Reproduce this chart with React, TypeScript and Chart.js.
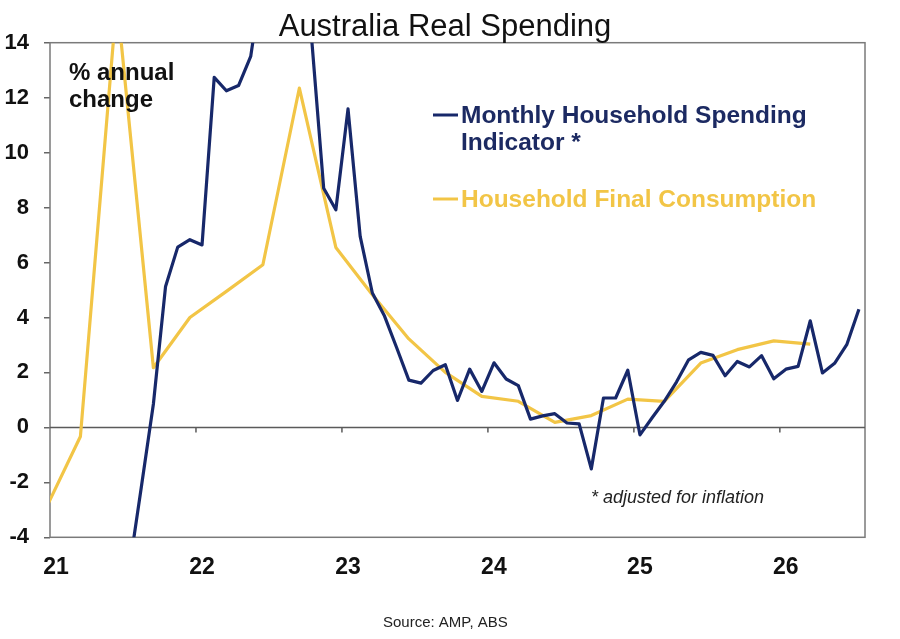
import React, { useEffect, useRef } from "react";
import { Chart, registerables } from "chart.js";

Chart.register(...registerables);

// ---------- data ----------
const TITLE = "Australia Real Spending";
const UNIT_NOTE = ["% annual", "change"];
const FOOTNOTE = "* adjusted for inflation";
const SOURCE = "Source: AMP, ABS";

// x axis: months since Jan 2021
const YEAR_LABELS = ["21", "22", "23", "24", "25", "26"];

// Monthly Household Spending Indicator, % y/y, Jan-2021 .. Jul-2026
const monthlyIndicator: (number | null)[] = [
  null, null, null, null, null, null, -5.2, -2.2, 0.85, 5.13, 6.56, 6.83,
  6.64, 12.74, 12.25, 12.44, 13.5, 16.5, 19.0, 20.5, 17.5, 14.2, 8.7, 7.92,
  11.59, 6.95, 4.89, 4.05, 2.9, 1.72, 1.61, 2.07, 2.28, 0.98, 2.12, 1.31,
  2.35, 1.76, 1.52, 0.3, 0.42, 0.5, 0.16, 0.13, -1.51, 1.07, 1.07, 2.08,
  -0.27, 0.35, 0.95, 1.65, 2.46, 2.73, 2.62, 1.88, 2.4, 2.2, 2.61, 1.77,
  2.12, 2.22, 3.88, 1.98, 2.33, 3.01, 4.3,
];

// Household Final Consumption, % y/y, quarterly (quarter-end month index from Jan-2021)
const quarterMonths = [
  -1, 2, 5, 8, 11, 14, 17, 20, 23, 26, 29, 32, 35, 38, 41, 44, 47, 50, 53, 56, 59, 62,
];
const quarterlyConsumption = [
  -3.1, -0.33, 15.6, 2.17, 4.0, 4.95, 5.92, 12.35, 6.55, 4.83, 3.22, 2.0,
  1.13, 0.95, 0.18, 0.43, 1.03, 0.95, 2.34, 2.83, 3.15, 3.03,
];

const SERIES_LABELS = [
  "Monthly Household Spending Indicator *",
  "Household Final Consumption",
];
const LEGEND_LINES = [
  ["Monthly Household Spending", "Indicator *"],
  ["Household Final Consumption"],
];

const NAVY = "#17286a";
const NAVY_TEXT = "#1c2a62";
const YELLOW = "#f2c546";
const FONT = "'Liberation Sans', Arial, Helvetica, sans-serif";

const annotations = {
  id: "annotations",
  afterDraw(chart: any) {
    const { ctx } = chart;
    ctx.save();
    // title
    ctx.fillStyle = "#111";
    ctx.font = `normal 31px ${FONT}`;
    ctx.textAlign = "center";
    ctx.textBaseline = "alphabetic";
    ctx.fillText(TITLE, 445, 36);

    // unit note
    ctx.textAlign = "left";
    ctx.font = `bold 24px ${FONT}`;
    ctx.fillStyle = "#111";
    UNIT_NOTE.forEach((t, i) => ctx.fillText(t, 69, 80 + i * 27));

    // legend
    const colors = chart.data.datasets.map((d: any) => d.borderColor);
    const textColors = [NAVY_TEXT, YELLOW];
    const rows = [123, 207];
    LEGEND_LINES.forEach((lines, i) => {
      const base = rows[i];
      ctx.strokeStyle = colors[i];
      ctx.lineWidth = 3;
      ctx.beginPath();
      ctx.moveTo(433, base - 8);
      ctx.lineTo(458, base - 8);
      ctx.stroke();
      ctx.fillStyle = textColors[i];
      ctx.font = `bold 24.5px ${FONT}`;
      lines.forEach((t, j) => ctx.fillText(t, 461, base + j * 27));
    });

    // footnote
    ctx.fillStyle = "#222";
    ctx.font = `italic 18px ${FONT}`;
    ctx.fillText(FOOTNOTE, 591, 503);

    // source
    ctx.font = `normal 15px ${FONT}`;
    ctx.fillStyle = "#222";
    ctx.fillText(SOURCE, 383, 627);
    ctx.restore();
  },
};

const frame = {
  id: "frame",
  beforeDatasetsDraw(chart: any) {
    const { ctx, chartArea, scales } = chart;
    const { left, top, right, bottom } = chartArea;
    ctx.save();
    ctx.strokeStyle = "#7a7a7a";
    ctx.lineWidth = 1.5;
    ctx.strokeRect(left, top, right - left, bottom - top);
    const y0 = scales.y.getPixelForValue(0);
    ctx.strokeStyle = "#5a5a5a";
    ctx.beginPath();
    ctx.moveTo(left, y0);
    ctx.lineTo(right, y0);
    scales.x.ticks.forEach((t: any) => {
      const px = scales.x.getPixelForValue(t.value);
      if (px > left + 2) {
        ctx.moveTo(px, y0);
        ctx.lineTo(px, y0 + 5);
      }
    });
    ctx.stroke();
    ctx.restore();
  },
};

export default function App() {
  const ref = useRef<HTMLCanvasElement>(null);
  useEffect(() => {
    if (!ref.current) return;
    const monthlyPoints = monthlyIndicator.map((v, i) => ({ x: i + 0.5, y: v }));
    const quarterlyPoints = quarterlyConsumption.map((v, i) => ({ x: quarterMonths[i] + 0.5, y: v }));
    const chart = new Chart(ref.current, {
      type: "line",
      data: {
        datasets: [
          {
            label: SERIES_LABELS[0],
            data: monthlyPoints as any,
            borderColor: NAVY,
            backgroundColor: NAVY,
            borderWidth: 3.2,
            pointRadius: 0,
            tension: 0,
            borderJoinStyle: "round",
          },
          {
            label: SERIES_LABELS[1],
            data: quarterlyPoints as any,
            borderColor: YELLOW,
            backgroundColor: YELLOW,
            borderWidth: 3.2,
            pointRadius: 0,
            tension: 0,
            borderJoinStyle: "round",
          },
        ],
      },
      options: {
        responsive: false,
        animation: false,
        devicePixelRatio: 1,
        layout: { padding: { left: 0, right: 35, top: 42.7, bottom: 0 } },
        plugins: {
          legend: { display: false },
          tooltip: { enabled: false },
          title: { display: false },
        },
        scales: {
          x: {
            type: "linear",
            min: 0,
            max: 67,
            afterBuildTicks: (s: any) => {
              s.ticks = YEAR_LABELS.map((_, i) => ({ value: i * 12 }));
            },
            afterFit: (s: any) => {
              s.height = 639 - 537.3;
            },
            ticks: {
              autoSkip: false,
              maxRotation: 0,
              labelOffset: 6,
              padding: 17,
              color: "#111",
              font: { family: FONT, size: 23, weight: "bold" },
              callback: (v: any) => YEAR_LABELS[Math.round(Number(v) / 12)] ?? "",
            },
            grid: { display: false, drawTicks: false },
            border: { display: false },
          },
          y: {
            min: -4,
            max: 14,
            afterFit: (s: any) => {
              s.width = 50;
            },
            ticks: {
              stepSize: 2,
              padding: 15,
              color: "#111",
              font: { family: FONT, size: 22, weight: "bold" },
            },
            grid: {
              drawOnChartArea: false,
              drawTicks: true,
              tickLength: 6,
              color: "#666",
              lineWidth: 1.5,
            },
            border: { display: false },
          },
        },
      } as any,
      plugins: [frame, annotations],
    });
    return () => chart.destroy();
  }, []);
  return (
    <div style={{ position: "fixed", left: 0, top: 0, width: 900, height: 639, background: "#fff" }}>
      <canvas ref={ref} width={900} height={639} style={{ display: "block", width: 900, height: 639 }} />
    </div>
  );
}
